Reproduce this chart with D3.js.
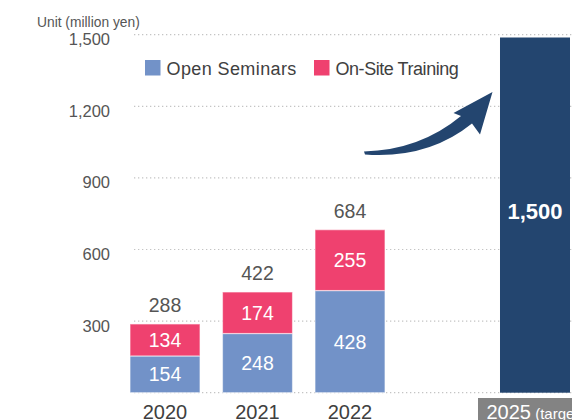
<!DOCTYPE html>
<html>
<head>
<meta charset="utf-8">
<script src="https://cdn.jsdelivr.net/npm/d3@7"></script>
<style>
  html, body { margin: 0; padding: 0; background: #fff; }
  svg { display: block; font-family: "Liberation Sans", Arial, sans-serif; }
</style>
</head>
<body>
<svg id="chart" width="572" height="420"></svg>
<script>
// Sales by year (million yen)
const years = ["2020", "2021", "2022"];
const openSeminars = [154, 248, 428];
const onSiteTraining = [134, 174, 255];
const totals = [288, 422, 684];
const targetYear = "2025";
const targetLabelSuffix = " (target)";
const targetValue = 1500;
const gridValues = [0, 300, 600, 900, 1200, 1500];
const tickValues = [300, 600, 900, 1200, 1500];
const seriesNames = ["Open Seminars", "On-Site Training"];
const unitLabel = "Unit (million yen)";

const colors = {
  open: "#7292c8",
  onsite: "#ef416f",
  target: "#23456f",
  grid: "#c4c4c4",
  text: "#555555",
  dark: "#404040",
  labelBox: "#838383"
};

const svg = d3.select("#chart");

// one empty slot separates the actual years from the target year
const domain = [...years, "_gap", targetYear];
const x = d3.scaleBand().domain(domain).range([130, 570]).paddingInner(0.2432).paddingOuter(0);
const y = d3.scaleLinear().domain([0, 1500]).range([392.7, 34.7]);

// dotted gridlines
svg.append("g")
  .selectAll("line")
  .data(gridValues)
  .join("line")
  .attr("x1", 134).attr("x2", 572)
  .attr("y1", d => y(d)).attr("y2", d => y(d))
  .attr("stroke", colors.grid)
  .attr("stroke-width", 1.2)
  .attr("stroke-dasharray", "1.3 2.7");

// y axis labels
const yAxis = d3.axisLeft(y).tickValues(tickValues).tickFormat(d3.format(",")).tickSize(0).tickPadding(0);
const yG = svg.append("g").attr("transform", "translate(110,0)").call(yAxis);
yG.select(".domain").remove();
yG.selectAll("text")
  .attr("font-family", "'Liberation Sans', Arial, sans-serif")
  .attr("font-size", 16.5)
  .attr("fill", colors.text)
  .attr("dy", 10)
  .attr("x", 0);

svg.append("text")
  .attr("x", 37).attr("y", 26.5)
  .attr("font-size", 13.8)
  .attr("fill", colors.text)
  .text(unitLabel);

// stacked bars
const rows = years.map((yr, i) => ({ year: yr, open: openSeminars[i], onsite: onSiteTraining[i], total: totals[i] }));
const stack = d3.stack().keys(["open", "onsite"])(rows);
const fills = [colors.open, colors.onsite];

svg.append("g")
  .selectAll("g")
  .data(stack)
  .join("g")
  .attr("fill", (d, i) => fills[i])
  .selectAll("rect")
  .data(d => d)
  .join("rect")
  .attr("x", d => x(d.data.year))
  .attr("width", x.bandwidth())
  .attr("y", d => y(d[1]))
  .attr("height", d => y(d[0]) - y(d[1]))
  .attr("stroke", "rgba(255,255,255,0.55)")
  .attr("stroke-width", 1.2);

// values inside segments
svg.append("g")
  .selectAll("g")
  .data(stack)
  .join("g")
  .selectAll("text")
  .data(d => d)
  .join("text")
  .attr("x", d => x(d.data.year) + x.bandwidth() / 2)
  .attr("y", d => (y(d[0]) + y(d[1])) / 2 + 7)
  .attr("text-anchor", "middle")
  .attr("font-size", 19.5)
  .attr("fill", "#fff")
  .text(d => d[1] - d[0]);

// totals above bars
svg.append("g")
  .selectAll("text")
  .data(rows)
  .join("text")
  .attr("x", d => x(d.year) + x.bandwidth() / 2)
  .attr("y", d => y(d.total) - 11.7)
  .attr("text-anchor", "middle")
  .attr("font-size", 19.5)
  .attr("fill", colors.text)
  .text(d => d.total);

// target bar
svg.append("rect")
  .attr("x", x(targetYear))
  .attr("width", x.bandwidth())
  .attr("y", y(targetValue) + 2.8)
  .attr("height", y(0) - y(targetValue) - 2.8)
  .attr("fill", colors.target);

svg.append("text")
  .attr("x", x(targetYear) + x.bandwidth() / 2)
  .attr("y", 219)
  .attr("text-anchor", "middle")
  .attr("font-size", 22)
  .attr("font-weight", "bold")
  .attr("fill", "#fff")
  .text(d3.format(",")(targetValue));

// year labels
svg.append("g")
  .selectAll("text")
  .data(years)
  .join("text")
  .attr("x", d => x(d) + x.bandwidth() / 2)
  .attr("y", 419.3)
  .attr("text-anchor", "middle")
  .attr("font-size", 20)
  .attr("fill", colors.dark)
  .text(d => d);

// target year label on a grey tag
const cx = x(targetYear) + x.bandwidth() / 2;
svg.append("rect")
  .attr("x", cx - 57).attr("y", 398)
  .attr("width", 114).attr("height", 30)
  .attr("fill", colors.labelBox);
const tt = svg.append("text")
  .attr("x", cx).attr("y", 419.3)
  .attr("text-anchor", "middle")
  .attr("fill", "#fff");
tt.append("tspan").attr("font-size", 20).text(targetYear);
tt.append("tspan").attr("font-size", 15).text(targetLabelSuffix);

// growth arrow pointing at the target bar
svg.append("path")
  .attr("d", "M364,151.5 Q420,150 461,116 L453.5,113 L492.5,92 L480,134.5 L472,123.5 Q428,159 365,154.5 Z")
  .attr("fill", colors.target);

// legend
const legend = svg.append("g");
const legendX = [145, 314];
const legendSpacing = [0.4, -0.45];
seriesNames.forEach((name, i) => {
  legend.append("rect")
    .attr("x", legendX[i]).attr("y", 60)
    .attr("width", 15.5).attr("height", 15.5)
    .attr("fill", fills[i]);
  legend.append("text")
    .attr("x", legendX[i] + 21.5).attr("y", 75)
    .attr("font-size", 18)
    .attr("letter-spacing", legendSpacing[i])
    .attr("fill", colors.dark)
    .text(name);
});
</script>
</body>
</html>
